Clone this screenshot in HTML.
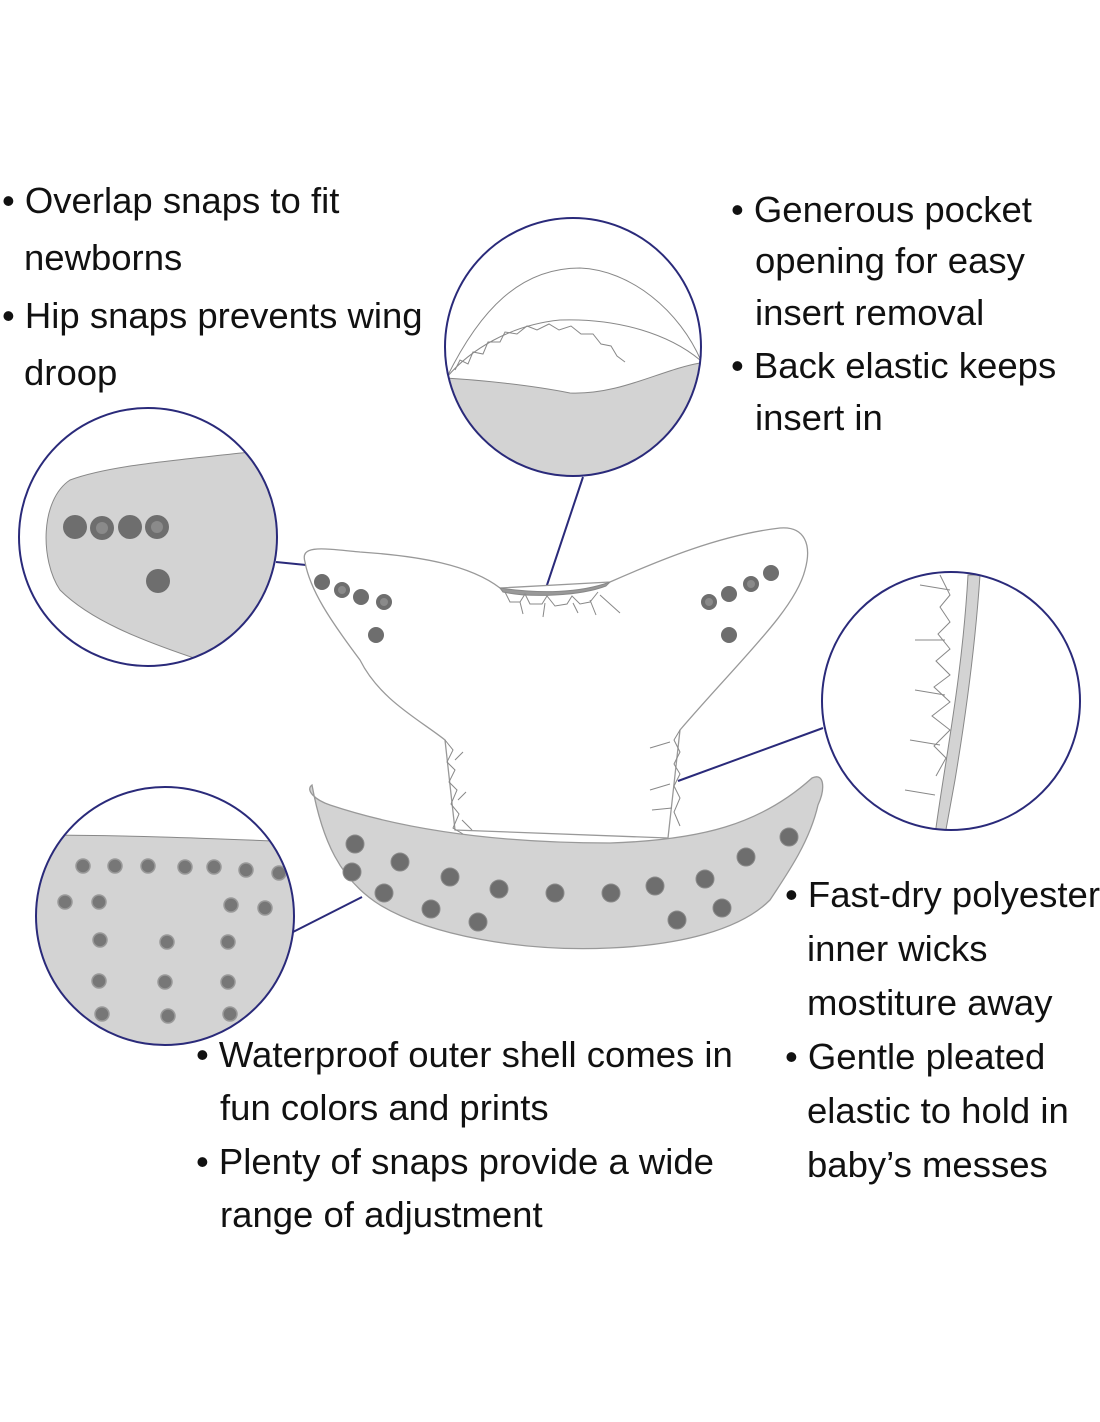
<!DOCTYPE html>
<html><head><meta charset="utf-8"><style>
html,body{margin:0;padding:0;background:#fff;}
svg{display:block}
text{font-family:"Liberation Sans",sans-serif;font-size:36.5px;fill:#111;}
</style></head><body>
<svg width="1100" height="1422" viewBox="0 0 1100 1422" xmlns="http://www.w3.org/2000/svg">
<defs>
<clipPath id="c1"><circle cx="148" cy="537" r="129"/></clipPath>
<clipPath id="c2"><ellipse cx="573" cy="347" rx="128" ry="129"/></clipPath>
<clipPath id="c3"><ellipse cx="951" cy="701" rx="129" ry="129"/></clipPath>
<clipPath id="c4"><ellipse cx="165" cy="916" rx="129" ry="129"/></clipPath>
</defs>

<g>
<text x="2" y="213">• Overlap snaps to fit</text>
<text x="24" y="270">newborns</text>
<text x="2" y="328">• Hip snaps prevents wing</text>
<text x="24" y="385">droop</text>

<text x="731" y="222">• Generous pocket</text>
<text x="755" y="273">opening for easy</text>
<text x="755" y="325">insert removal</text>
<text x="731" y="378">• Back elastic keeps</text>
<text x="755" y="430">insert in</text>

<text x="785" y="907">• Fast-dry polyester</text>
<text x="807" y="961">inner wicks</text>
<text x="807" y="1015">mostiture away</text>
<text x="785" y="1069">• Gentle pleated</text>
<text x="807" y="1123">elastic to hold in</text>
<text x="807" y="1177">baby’s messes</text>

<text x="196" y="1067">• Waterproof outer shell comes in</text>
<text x="220" y="1120">fun colors and prints</text>
<text x="196" y="1174">• Plenty of snaps provide a wide</text>
<text x="220" y="1227">range of adjustment</text>
</g>

<g stroke="#2a2a7a" stroke-width="2" fill="none">
<line x1="276" y1="562" x2="306" y2="565"/>
<line x1="583" y1="477" x2="545" y2="591"/>
<line x1="823" y1="728" x2="678" y2="781"/>
<line x1="293" y1="932" x2="362" y2="897"/>
</g>

<path d="M305,562 C300,545 320,548 360,552 C420,556 470,565 500,588 L610,582 C660,560 720,535 780,528 C805,526 812,545 805,570 C795,610 740,660 680,730 L668,838 L455,830 L445,740 C420,720 380,700 360,660 C330,620 310,590 305,562 Z" fill="#fff" stroke="#999" stroke-width="1.3"/>
<path d="M500,588 C540,594 580,593 610,582 L606,586 C580,596 530,598 503,592 Z" fill="#999" stroke="#888"/>
<g stroke="#888" fill="none" stroke-width="1">
<path d="M505,592 l5,10 l10,0 l5,-8 l5,10 l12,0 l5,-8 l8,10 l12,-2 l5,-8 l8,8 l10,-2 l8,-10"/>
<path d="M520,602 l3,12 M545,603 l-2,14 M573,603 l5,10 M590,600 l6,15 M600,595 l20,18"/>
<path d="M445,740 l8,10 l-6,12 l8,8 l-6,12 l8,8 l-6,14 l8,10 l-6,14 l10,6 M455,760 l8,-8 M458,800 l8,-8 M462,820 l10,10"/>
<path d="M680,730 l-6,10 l6,12 l-6,12 l6,10 l-6,12 l6,12 l-6,14 l6,14 M650,748 l20,-6 M650,790 l20,-6 M652,810 l20,-2"/>
</g>
<g fill="#6e6e6e">
<circle cx="322" cy="582" r="8"/><circle cx="342" cy="590" r="8"/><circle cx="361" cy="597" r="8"/><circle cx="384" cy="602" r="8"/><circle cx="376" cy="635" r="8"/>
<circle cx="709" cy="602" r="8"/><circle cx="729" cy="594" r="8"/><circle cx="751" cy="584" r="8"/><circle cx="771" cy="573" r="8"/><circle cx="729" cy="635" r="8"/>
</g>
<g fill="#8a8a8a"><circle cx="342" cy="590" r="4"/><circle cx="384" cy="602" r="4"/><circle cx="709" cy="602" r="4"/><circle cx="751" cy="584" r="4"/></g>

<path d="M312,785 C305,790 315,800 330,805 C420,835 520,843 610,843 C700,840 760,825 812,778 C825,772 825,790 818,805 C810,840 790,870 770,900 C740,930 680,945 610,948 C520,952 430,935 380,905 C340,880 322,840 312,785 Z" fill="#d3d3d3" stroke="#999" stroke-width="1.3"/>
<g fill="#6e6e6e" stroke="#8a8a8a" stroke-width="1">
<circle cx="355" cy="844" r="9"/><circle cx="352" cy="872" r="9"/><circle cx="400" cy="862" r="9"/><circle cx="384" cy="893" r="9"/><circle cx="431" cy="909" r="9"/><circle cx="450" cy="877" r="9"/><circle cx="478" cy="922" r="9"/><circle cx="499" cy="889" r="9"/><circle cx="555" cy="893" r="9"/><circle cx="611" cy="893" r="9"/><circle cx="655" cy="886" r="9"/><circle cx="677" cy="920" r="9"/><circle cx="705" cy="879" r="9"/><circle cx="722" cy="908" r="9"/><circle cx="746" cy="857" r="9"/><circle cx="789" cy="837" r="9"/>
</g>

<g clip-path="url(#c1)">
<path d="M70,480 C110,465 180,460 250,452 L290,452 L290,700 L200,660 C140,640 90,620 60,590 C40,560 40,500 70,480 Z" fill="#d3d3d3" stroke="#888"/>
<g fill="#6e6e6e"><circle cx="75" cy="527" r="12"/><circle cx="102" cy="528" r="12"/><circle cx="130" cy="527" r="12"/><circle cx="157" cy="527" r="12"/><circle cx="158" cy="581" r="12"/></g>
<g fill="#8a8a8a"><circle cx="102" cy="528" r="6"/><circle cx="157" cy="527" r="6"/></g>
</g>
<circle cx="148" cy="537" r="129" fill="none" stroke="#2a2a7a" stroke-width="2"/>

<g clip-path="url(#c2)">
<path d="M445,378 C480,380 530,385 570,393 C620,395 660,370 700,363 L705,480 L440,480 Z" fill="#d3d3d3" stroke="#888"/>
<path d="M447,377 C480,310 520,268 580,268 C630,270 680,310 702,363" fill="none" stroke="#888"/>
<path d="M447,377 C470,350 510,325 560,320 C620,318 670,335 700,360" fill="none" stroke="#888"/>
<path d="M455,370 l5,-10 l8,4 l5,-12 l10,2 l5,-12 l12,0 l5,-10 l12,2 l10,-8 l10,4 l12,-6 l10,6 l12,-4 l10,8 l12,0 l8,10 l10,2 l6,10 l8,6" fill="none" stroke="#888"/>
</g>
<ellipse cx="573" cy="347" rx="128" ry="129" fill="none" stroke="#2a2a7a" stroke-width="2"/>

<g clip-path="url(#c3)">
<path d="M968,575 L980,575 C975,650 965,720 955,780 L945,835 L935,835 C945,760 962,680 968,575 Z" fill="#d3d3d3" stroke="#888"/>
<path d="M940,575 l10,20 l-10,12 l10,15 l-12,12 l12,15 l-14,12 l14,14 l-16,12 l16,15 l-18,14 l18,14 l-16,16 l12,12 l-10,18 M920,585 l30,5 M915,640 l30,0 M915,690 l30,5 M910,740 l30,5 M905,790 l30,5" fill="none" stroke="#888"/>
</g>
<ellipse cx="951" cy="701" rx="129" ry="129" fill="none" stroke="#2a2a7a" stroke-width="2"/>

<g clip-path="url(#c4)">
<path d="M30,835 C120,835 200,838 300,842 L300,1050 L30,1050 Z" fill="#d3d3d3" stroke="#888"/>
<g fill="#777" stroke="#999" stroke-width="1.5">
<circle cx="83" cy="866" r="7"/><circle cx="115" cy="866" r="7"/><circle cx="148" cy="866" r="7"/><circle cx="185" cy="867" r="7"/><circle cx="214" cy="867" r="7"/><circle cx="246" cy="870" r="7"/><circle cx="279" cy="873" r="7"/>
<circle cx="65" cy="902" r="7"/><circle cx="99" cy="902" r="7"/><circle cx="231" cy="905" r="7"/><circle cx="265" cy="908" r="7"/>
<circle cx="100" cy="940" r="7"/><circle cx="167" cy="942" r="7"/><circle cx="228" cy="942" r="7"/>
<circle cx="99" cy="981" r="7"/><circle cx="165" cy="982" r="7"/><circle cx="228" cy="982" r="7"/>
<circle cx="102" cy="1014" r="7"/><circle cx="168" cy="1016" r="7"/><circle cx="230" cy="1014" r="7"/>
</g>
</g>
<ellipse cx="165" cy="916" rx="129" ry="129" fill="none" stroke="#2a2a7a" stroke-width="2"/>
</svg>
</body></html>
